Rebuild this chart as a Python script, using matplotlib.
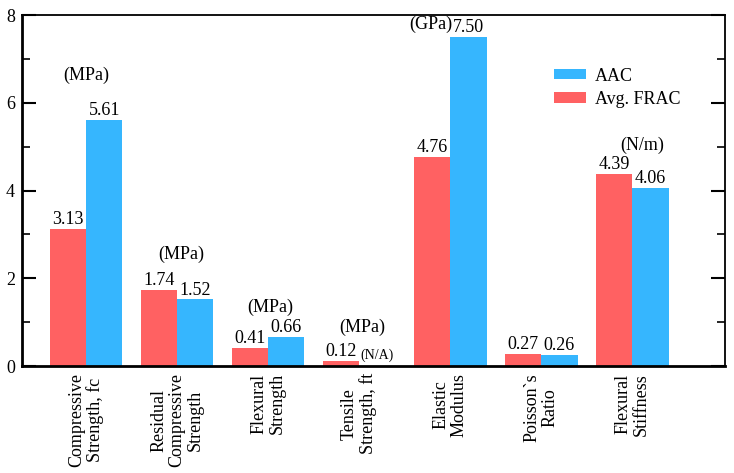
import numpy as np
import matplotlib.pyplot as plt

plt.rcParams['font.family'] = ['Liberation Serif', 'DejaVu Serif']

categories = ['Compressive\nStrength, fc', 'Residual\nCompressive\nStrength',
              'Flexural\nStrength', 'Tensile\nStrength, ft', 'Elastic\nModulus',
              'Poisson`s\nRatio', 'Flexural\nStiffness']
frac = [3.13, 1.74, 0.41, 0.12, 4.76, 0.27, 4.39]
aac = [5.61, 1.52, 0.66, 0.0, 7.50, 0.26, 4.06]
units = ['(MPa)', '(MPa)', '(MPa)', '(MPa)', '', '', '(N/m)']
unit_y = [6.63, 2.55, 1.34, 0.89, None, None, 5.03]
unit_dx = [0.0, 0.05, 0.02, 0.03, 0.0, 0.0, 0.11]

RED = '#ff6162'
BLUE = '#36b6fe'

fig = plt.figure(figsize=(7.34, 4.73), dpi=100)
ax = fig.add_axes([0.030, 0.226, 0.958, 0.742])

x = np.arange(len(categories))
w = 0.4
b_frac = ax.bar(x - w / 2, frac, w, color=RED, label='Avg. FRAC')
b_aac = ax.bar(x + w / 2, aac, w, color=BLUE, label='AAC')

for i in range(len(categories)):
    ax.text(x[i] - w / 2, frac[i] + 0.02, f'{frac[i]:.2f}', ha='center', va='bottom', fontsize=13)
    if aac[i] > 0:
        ax.text(x[i] + w / 2, aac[i] + 0.02, f'{aac[i]:.2f}', ha='center', va='bottom', fontsize=13)

# unit annotations
for i, u in enumerate(units):
    if u:
        ax.text(x[i] + unit_dx[i], unit_y[i], u, ha='center', va='center', fontsize=13)
ax.text(x[4] + 0.03, 7.79, '(GPa)', ha='right', va='center', fontsize=13)
ax.text(x[3] + 0.01, 0.25, '(N/A)', ha='left', va='center', fontsize=10)

ax.set_xlim(-0.703, 7.022)
ax.set_ylim(0, 8)
ax.set_yticks([0, 2, 4, 6, 8])
ax.set_yticks([1, 3, 5, 7], minor=True)
ax.set_xticks(x)
ax.set_xticklabels(categories, rotation=90, fontsize=13, multialignment='center',
                   va='top', ha='center', linespacing=1.1)
ax.tick_params(axis='x', length=0, pad=5)
ax.tick_params(axis='y', which='major', direction='in', length=10, width=1.5,
               right=True, labelsize=13, pad=5)
ax.tick_params(axis='y', which='minor', direction='in', length=6, width=1.2, right=True)

for s in ['top', 'right']:
    ax.spines[s].set_linewidth(1.3)
for s in ['left', 'bottom']:
    ax.spines[s].set_linewidth(2.0)

ax.legend(handles=[b_aac, b_frac], loc='upper left', bbox_to_anchor=(0.733, 0.897),
          frameon=False, fontsize=13, handlelength=1.8, handleheight=0.5,
          labelspacing=0.35, handletextpad=0.5)

fig.savefig('out.png', dpi=100)
